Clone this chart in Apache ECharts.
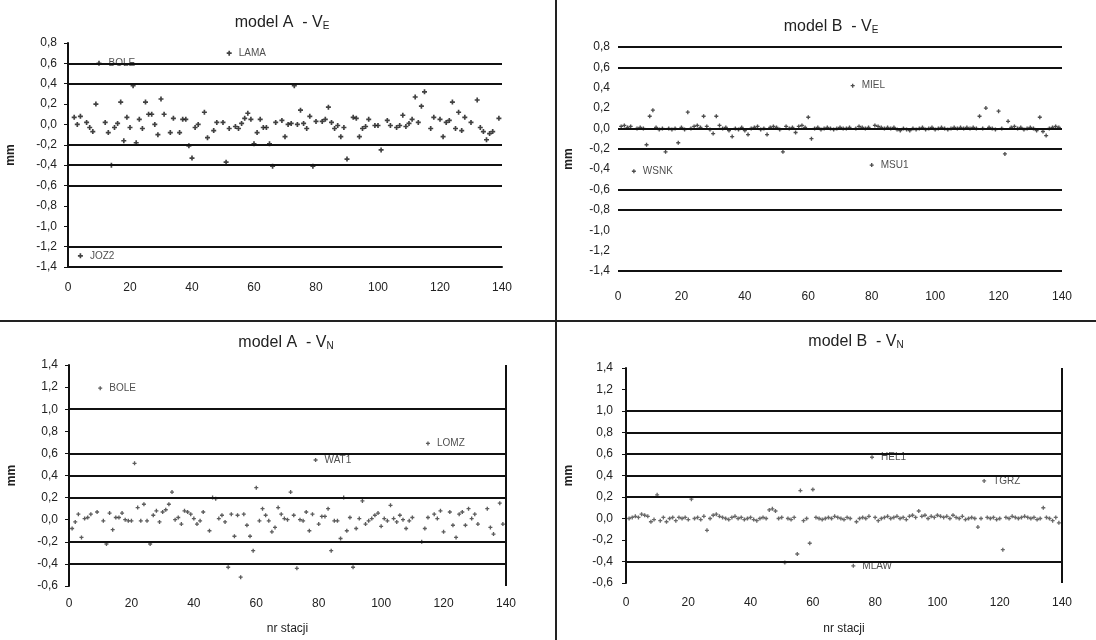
<!DOCTYPE html>
<html><head><meta charset="utf-8">
<script src="https://cdn.jsdelivr.net/npm/echarts@6/dist/echarts.min.js"></script>
<style>html,body{margin:0;padding:0;background:#fff}#c{width:1096px;height:640px}</style>
</head><body><div id="c"></div>
<script>
// ---------- data ----------
const xTickStep = 20;
const xRange = [0, 140];
const yRangeE = [-1.4, 0.8];
const yRangeN = [-0.6, 1.4];
const titleMain = ['model A  - V', 'model B  - V', 'model A  - V', 'model B  - V'];
const titleSub = ['E', 'E', 'N', 'N'];
const xName = 'nr stacji';
const yName = 'mm';

// horizontal reference lines visible in each panel
const linesAE = [0.6, 0.4, -0.2, -0.4, -0.6, -1.2];
const linesBE = [0.8, 0.6, 0, -0.2, -0.6, -0.8, -1.4];
const linesAN = [1.0, 0.6, 0.4, 0.2, -0.2, -0.4];
const linesBN = [1.0, 0.8, 0.6, 0.4, 0.2, -0.4];

// model A - VE : [station, mm]
const pointsAE = [[2,0.07],[3,0.0],[4,0.08],[6,0.02],[7,-0.03],[8,-0.07],[9,0.2],[12,0.02],[13,-0.08],[14,-0.4],[15,-0.03],[16,0.01],[17,0.22],[18,-0.16],[19,0.07],[20,-0.03],[21,0.38],[22,-0.18],[23,0.05],[24,-0.04],[25,0.22],[26,0.1],[27,0.1],[28,0.0],[29,-0.1],[30,0.25],[31,0.1],[33,-0.08],[34,0.06],[36,-0.08],[37,0.05],[38,0.05],[39,-0.21],[40,-0.33],[41,-0.03],[42,0.0],[44,0.12],[45,-0.13],[47,-0.06],[48,0.02],[50,0.02],[51,-0.37],[52,-0.04],[54,-0.02],[55,-0.04],[56,0.01],[57,0.06],[58,0.11],[59,0.05],[60,-0.19],[61,-0.08],[62,0.05],[63,-0.03],[64,-0.03],[65,-0.19],[66,-0.41],[67,0.02],[69,0.04],[70,-0.12],[71,0.0],[72,0.01],[73,0.38],[74,0.0],[75,0.14],[76,0.01],[77,-0.04],[78,0.08],[79,-0.41],[80,0.03],[82,0.03],[83,0.05],[84,0.17],[85,0.02],[86,-0.04],[87,-0.01],[88,-0.12],[89,-0.03],[90,-0.34],[92,0.07],[93,0.06],[94,-0.12],[95,-0.04],[96,-0.02],[97,0.05],[99,-0.01],[100,-0.01],[101,-0.25],[103,0.04],[104,-0.01],[106,-0.03],[107,-0.01],[108,0.09],[109,-0.02],[110,0.01],[111,0.05],[112,0.27],[113,0.02],[114,0.18],[115,0.32],[117,-0.04],[118,0.07],[120,0.05],[121,-0.12],[122,0.02],[123,0.04],[124,0.22],[125,-0.04],[126,0.12],[127,-0.06],[128,0.07],[130,0.02],[132,0.24],[133,-0.03],[134,-0.07],[135,-0.15],[136,-0.09],[137,-0.07],[139,0.06]];
const namesAE = ['BOLE', 'LAMA', 'JOZ2'];
const namedAE = [[10,0.6],[52,0.7],[4,-1.29]];

// model B - VE : value per station 1..139 (null = labelled station)
const valuesBE = [0.02,0.03,0.01,0.02,null,0.0,0.01,0.0,-0.16,0.12,0.18,0.01,-0.01,0.0,-0.23,0.0,-0.01,0.0,-0.14,0.01,-0.01,0.16,0.0,0.02,0.03,0.01,0.12,0.02,-0.01,-0.05,0.12,0.03,0.0,0.01,-0.02,-0.08,0.0,-0.01,0.01,-0.02,-0.06,0.0,0.01,0.02,-0.01,0.0,-0.06,0.01,0.02,0.01,-0.01,-0.23,0.02,0.0,0.01,-0.04,0.02,0.03,0.01,0.11,-0.1,0.0,0.01,-0.01,0.0,0.01,0.0,-0.01,0.0,0.01,0.0,0.0,0.01,null,0.0,0.02,0.01,0.0,0.01,null,0.03,0.02,0.01,0.0,0.01,0.0,0.01,-0.01,-0.02,0.0,-0.01,-0.02,0.0,-0.01,0.0,0.01,-0.01,0.0,0.01,-0.01,0.0,0.01,0.0,-0.01,0.0,0.01,0.0,0.01,0.0,0.01,0.0,0.01,0.0,0.12,0.0,0.2,0.01,0.0,-0.01,0.17,0.0,-0.25,0.07,0.01,0.02,0.0,0.01,-0.01,0.0,0.01,0.0,-0.02,0.11,-0.03,-0.07,0.0,0.01,0.02,0.01];
const namesBE = ['WSNK', 'MIEL', 'MSU1'];
const namedBE = [[5,-0.42],[74,0.42],[80,-0.36]];

// model A - VN : [station, mm]
const pointsAN = [[1,-0.08],[2,-0.02],[3,0.05],[4,-0.16],[5,0.01],[6,0.02],[7,0.05],[9,0.07],[11,-0.01],[12,-0.22],[13,0.06],[14,-0.09],[15,0.02],[16,0.02],[17,0.06],[18,0],[19,-0.01],[20,-0.01],[21,0.51],[22,0.11],[23,-0.01],[24,0.14],[25,-0.01],[26,-0.22],[27,0.04],[28,0.08],[29,-0.02],[30,0.07],[31,0.09],[32,0.14],[33,0.25],[34,0],[35,0.02],[36,-0.04],[37,0.08],[38,0.07],[39,0.05],[40,0.01],[41,-0.04],[42,-0.01],[43,0.07],[45,-0.1],[46,0.2],[47,0.19],[48,0.01],[49,0.04],[50,-0.02],[51,-0.43],[52,0.05],[53,-0.15],[54,0.04],[55,-0.52],[56,0.05],[57,-0.05],[58,-0.15],[59,-0.28],[60,0.29],[61,-0.01],[62,0.1],[63,0.04],[64,-0.01],[65,-0.11],[66,-0.07],[67,0.11],[68,0.05],[69,0.01],[70,0],[71,0.25],[72,0.04],[73,-0.44],[74,0.0],[75,-0.01],[76,0.07],[77,-0.1],[78,0.05],[80,-0.04],[81,0.03],[82,0.03],[83,0.1],[84,-0.28],[85,-0.01],[86,-0.01],[87,-0.17],[88,0.2],[89,-0.1],[90,0.02],[91,-0.43],[92,-0.08],[93,0.01],[94,0.17],[95,-0.04],[96,-0.01],[97,0.01],[98,0.04],[99,0.06],[100,-0.06],[101,0.01],[102,-0.01],[103,0.13],[104,0.01],[105,-0.02],[106,0.04],[107,0],[108,-0.08],[109,-0.01],[110,0.02],[113,-0.2],[114,-0.08],[115,0.02],[117,0.05],[118,0.01],[119,0.08],[120,-0.11],[122,0.07],[123,-0.05],[124,-0.16],[125,0.05],[126,0.07],[127,-0.05],[128,0.1],[129,0.01],[130,0.05],[131,-0.04],[134,0.1],[135,-0.07],[136,-0.13],[138,0.15],[139,-0.04]];
const namesAN = ['BOLE', 'WAT1', 'LOMZ'];
const namedAN = [[10,1.19],[79,0.54],[115,0.69]];

// model B - VN : value per station 1..139 (null = labelled station)
const valuesBN = [0.0,0.01,0.02,0.01,0.04,0.03,0.02,-0.03,-0.01,0.22,-0.02,0.01,-0.03,0.0,0.01,-0.02,0.01,0.0,0.01,-0.01,0.18,0.0,0.01,-0.01,0.02,-0.11,0.0,0.03,0.04,0.02,0.01,0.0,-0.01,0.01,0.02,0.0,0.01,-0.01,0.0,0.01,-0.01,-0.02,0.0,0.01,0.0,0.08,0.09,0.07,0.0,0.01,-0.41,0.0,-0.01,0.01,-0.33,0.26,-0.02,0.0,-0.23,0.27,0.01,0.0,-0.01,0.0,0.01,0.0,0.02,0.01,0.0,-0.01,0.01,0.0,null,-0.03,0.0,0.01,0.0,0.02,null,0.01,-0.02,0.0,0.01,0.02,0.0,0.01,0.02,0.0,0.01,-0.01,0.02,0.03,0.01,0.07,0.02,0.03,0.0,0.02,0.01,0.03,0.02,0.01,0.02,0.0,0.03,0.01,0.0,0.02,-0.01,0.0,0.01,0.0,-0.08,0.0,null,0.01,0.0,0.01,-0.01,0.0,-0.29,0.01,0.0,0.02,0.01,0.0,0.01,0.02,0.01,0.0,0.01,-0.01,0.0,0.1,0.01,0.0,-0.02,0.01,-0.04];
const namesBN = ['MLAW', 'HEL1', 'TGRZ'];
const namedBN = [[73,-0.44],[79,0.57],[115,0.35]];

// ---------- chart ----------
const FONT = 'Liberation Sans, Arial, sans-serif';
const TXT = '#222';
const plus = 'path://M2,0H4V2H6V4H4V6H2V4H0V2H2Z';
const perStation = arr => arr.map((v, i) => [i + 1, v]).filter(p => p[1] !== null);
const named = (names, pts) => pts.map((p, i) => ({ name: names[i], value: p }));
const fmtY = v => (Math.abs(v) < 1e-9 ? 0 : v).toFixed(1).replace('.', ',');

const panels = [
  { grid: { left: 68, top: 43, width: 434, height: 224 }, range: yRangeE, lines: linesAE,
    pts: pointsAE, lab: named(namesAE, namedAE), yAxisLine: true, xAxisLine: true, right: false,
    xMargin: 15, yMargin: 11, yGap: 51, xNameShow: false, xGap: 38, size: 5, color: '#111' },
  { grid: { left: 618, top: 47, width: 444, height: 224 }, range: yRangeE, lines: linesBE,
    pts: perStation(valuesBE), lab: named(namesBE, namedBE), yAxisLine: false, xAxisLine: false, right: false,
    xMargin: 20, yMargin: 8, yGap: 43, xNameShow: false, xGap: 38, size: 4, color: '#222' },
  { grid: { left: 69, top: 365, width: 437, height: 221 }, range: yRangeN, lines: linesAN,
    pts: pointsAN, lab: named(namesAN, namedAN), yAxisLine: true, xAxisLine: false, right: true,
    xMargin: 12, yMargin: 11, yGap: 51, xNameShow: true, xGap: 37, size: 4, color: '#333' },
  { grid: { left: 626, top: 368, width: 436, height: 215 }, range: yRangeN, lines: linesBN,
    pts: perStation(valuesBN), lab: named(namesBN, namedBN), yAxisLine: true, xAxisLine: false, right: true,
    xMargin: 14, yMargin: 13, yGap: 51, xNameShow: true, xGap: 40, size: 4, color: '#444' }
];

const lineStyle = { color: '#111', width: 2, type: 'solid' };
const option = {
  animation: false,
  backgroundColor: '#fff',
  textStyle: { fontFamily: FONT },
  grid: panels.map(p => Object.assign({ containLabel: false }, p.grid)),
  xAxis: panels.map((p, i) => ({
    type: 'value', gridIndex: i, min: xRange[0], max: xRange[1], interval: xTickStep,
    name: p.xNameShow ? xName : '', nameLocation: 'middle', nameGap: p.xGap,
    nameTextStyle: { color: TXT, fontSize: 12, fontFamily: FONT },
    axisLine: { show: p.xAxisLine, onZero: false, lineStyle: lineStyle },
    axisTick: { show: false }, splitLine: { show: false },
    axisLabel: { color: TXT, fontSize: 12, margin: p.xMargin, fontFamily: FONT }
  })),
  yAxis: panels.map((p, i) => ({
    type: 'value', gridIndex: i, min: p.range[0], max: p.range[1], interval: 0.2,
    name: yName, nameLocation: 'middle', nameGap: p.yGap, nameRotate: 90,
    nameTextStyle: { color: TXT, fontSize: 12, fontWeight: 'bold', fontFamily: FONT },
    axisLine: { show: p.yAxisLine, onZero: false, lineStyle: lineStyle },
    axisTick: { show: p.yAxisLine, length: 4, lineStyle: { color: '#111', width: 1 } },
    splitLine: { show: false },
    axisLabel: { color: TXT, fontSize: 12, margin: p.yMargin, fontFamily: FONT, formatter: fmtY }
  })),
  series: panels.flatMap((p, i) => {
    const mlData = p.lines.map(v => ({ yAxis: v }));
    if (p.right) mlData.push({ xAxis: xRange[1] });
    return [
      {
        type: 'scatter', xAxisIndex: i, yAxisIndex: i, data: p.pts,
        symbol: plus, symbolSize: p.size, itemStyle: { color: p.color },
        markLine: { silent: true, symbol: 'none', label: { show: false },
          lineStyle: lineStyle, data: mlData, animation: false }
      },
      {
        type: 'scatter', xAxisIndex: i, yAxisIndex: i, data: p.lab,
        symbol: plus, symbolSize: p.size, itemStyle: { color: p.color },
        label: { show: true, position: 'right', distance: 7, formatter: '{b}',
          color: TXT, fontSize: 10, fontFamily: FONT }
      }
    ];
  }),
  graphic: [
    { type: 'line', shape: { x1: 556, y1: 0, x2: 556, y2: 640 }, style: { stroke: '#222', lineWidth: 2 } },
    { type: 'line', shape: { x1: 0, y1: 321, x2: 1096, y2: 321 }, style: { stroke: '#222', lineWidth: 2 } }
  ].concat([[282, 23], [831, 27], [286, 343], [856, 342]].map((c, i) => ({
    type: 'text', x: c[0], y: c[1],
    style: {
      text: '{m|' + titleMain[i] + '}{s|' + titleSub[i] + '}',
      align: 'center', verticalAlign: 'middle',
      rich: {
        m: { fontSize: 16, fontFamily: FONT, fill: TXT, color: TXT },
        s: { fontSize: 10, fontFamily: FONT, fill: TXT, color: TXT, verticalAlign: 'bottom' }
      }
    }
  })))
};

const chart = echarts.init(document.getElementById('c'), null, { renderer: 'canvas' });
chart.setOption(option);
</script>
</body></html>
